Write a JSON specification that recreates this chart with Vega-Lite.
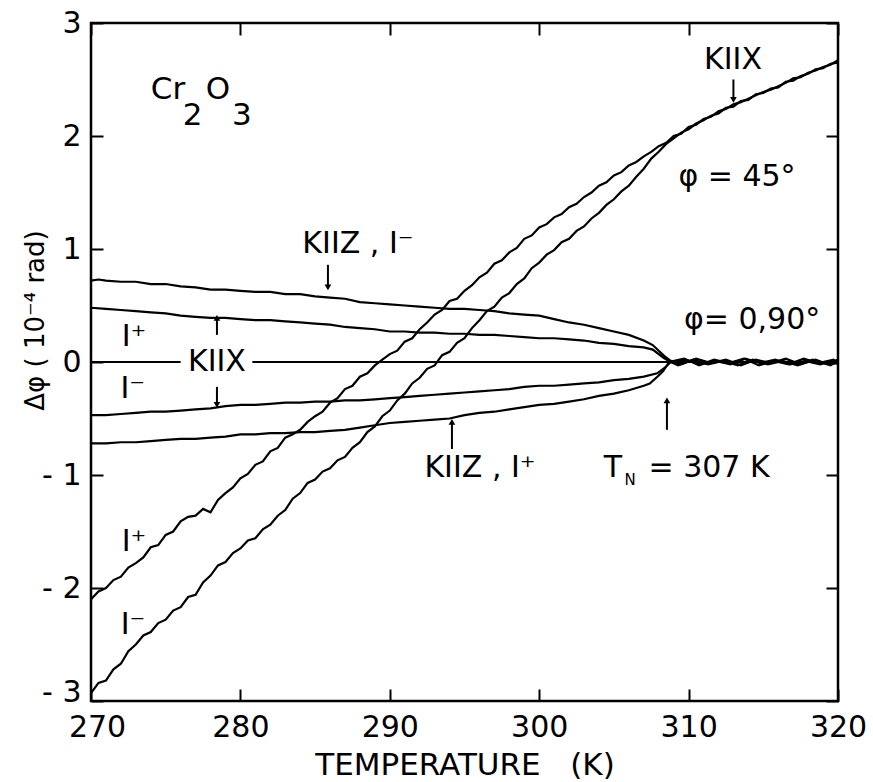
{
  "$schema": "https://vega.github.io/schema/vega-lite/v6.json",
  "width": 747,
  "height": 678,
  "autosize": {"type": "none"},
  "padding": {"left": 91, "top": 23, "right": 35, "bottom": 81},
  "background": "white",
  "config": {
    "view": {"stroke": "black", "strokeWidth": 2.5},
    "font": "DejaVu Sans",
    "axis": {"labelFont": "DejaVu Sans", "titleFont": "DejaVu Sans", "labelColor": "black", "titleColor": "black", "tickColor": "black", "grid": false, "domain": false, "titleFontWeight": "normal"}
  },
  "datasets": {
    "curves": [
      {"s":"Ip","T":270.0,"v":-2.10},{"s":"Ip","T":270.5,"v":-2.03},{"s":"Ip","T":271.0,"v":-2.00},{"s":"Ip","T":271.5,"v":-1.93},{"s":"Ip","T":272.0,"v":-1.90},{"s":"Ip","T":272.5,"v":-1.82},{"s":"Ip","T":273.0,"v":-1.78},{"s":"Ip","T":273.5,"v":-1.73},{"s":"Ip","T":274.0,"v":-1.64},{"s":"Ip","T":274.5,"v":-1.62},{"s":"Ip","T":275.0,"v":-1.53},{"s":"Ip","T":275.5,"v":-1.50},{"s":"Ip","T":276.0,"v":-1.41},{"s":"Ip","T":276.5,"v":-1.37},{"s":"Ip","T":277.0,"v":-1.36},{"s":"Ip","T":277.5,"v":-1.30},{"s":"Ip","T":278.0,"v":-1.33},{"s":"Ip","T":278.5,"v":-1.22},{"s":"Ip","T":279.0,"v":-1.16},{"s":"Ip","T":279.5,"v":-1.11},{"s":"Ip","T":280.0,"v":-1.03},{"s":"Ip","T":280.5,"v":-0.99},{"s":"Ip","T":281.0,"v":-0.91},{"s":"Ip","T":281.5,"v":-0.88},{"s":"Ip","T":282.0,"v":-0.79},{"s":"Ip","T":282.5,"v":-0.76},{"s":"Ip","T":283.0,"v":-0.67},{"s":"Ip","T":283.5,"v":-0.64},{"s":"Ip","T":284.0,"v":-0.60},{"s":"Ip","T":284.5,"v":-0.53},{"s":"Ip","T":285.0,"v":-0.48},{"s":"Ip","T":285.5,"v":-0.44},{"s":"Ip","T":286.0,"v":-0.36},{"s":"Ip","T":286.5,"v":-0.32},{"s":"Ip","T":287.0,"v":-0.24},{"s":"Ip","T":287.5,"v":-0.21},{"s":"Ip","T":288.0,"v":-0.13},{"s":"Ip","T":288.5,"v":-0.10},{"s":"Ip","T":289.0,"v":-0.03},{"s":"Ip","T":289.5,"v":0.02},{"s":"Ip","T":290.0,"v":0.07},{"s":"Ip","T":290.5,"v":0.10},{"s":"Ip","T":291.0,"v":0.18},{"s":"Ip","T":291.5,"v":0.21},{"s":"Ip","T":292.0,"v":0.29},{"s":"Ip","T":292.5,"v":0.35},{"s":"Ip","T":293.0,"v":0.42},{"s":"Ip","T":293.5,"v":0.46},{"s":"Ip","T":294.0,"v":0.54},{"s":"Ip","T":294.5,"v":0.56},{"s":"Ip","T":295.0,"v":0.63},{"s":"Ip","T":295.5,"v":0.68},{"s":"Ip","T":296.0,"v":0.75},{"s":"Ip","T":296.5,"v":0.79},{"s":"Ip","T":297.0,"v":0.87},{"s":"Ip","T":297.5,"v":0.90},{"s":"Ip","T":298.0,"v":0.97},{"s":"Ip","T":298.5,"v":1.01},{"s":"Ip","T":299.0,"v":1.09},{"s":"Ip","T":299.5,"v":1.12},{"s":"Ip","T":300.0,"v":1.19},{"s":"Ip","T":300.5,"v":1.22},{"s":"Ip","T":301.0,"v":1.28},{"s":"Ip","T":301.5,"v":1.31},{"s":"Ip","T":302.0,"v":1.37},{"s":"Ip","T":302.5,"v":1.40},{"s":"Ip","T":303.0,"v":1.46},{"s":"Ip","T":303.5,"v":1.50},{"s":"Ip","T":304.0,"v":1.56},{"s":"Ip","T":304.5,"v":1.59},{"s":"Ip","T":305.0,"v":1.65},{"s":"Ip","T":305.5,"v":1.68},{"s":"Ip","T":306.0,"v":1.74},{"s":"Ip","T":306.5,"v":1.77},{"s":"Ip","T":307.0,"v":1.82},{"s":"Ip","T":307.5,"v":1.86},{"s":"Ip","T":308.0,"v":1.91},{"s":"Ip","T":308.5,"v":1.94},{"s":"Ip","T":309.0,"v":2.00},{"s":"Ip","T":309.5,"v":2.02},{"s":"Ip","T":310.0,"v":2.08},{"s":"Ip","T":310.5,"v":2.10},{"s":"Ip","T":311.0,"v":2.15},{"s":"Ip","T":311.5,"v":2.17},{"s":"Ip","T":312.0,"v":2.22},{"s":"Ip","T":312.5,"v":2.24},{"s":"Ip","T":313.0,"v":2.28},{"s":"Ip","T":313.5,"v":2.30},{"s":"Ip","T":314.0,"v":2.33},{"s":"Ip","T":314.5,"v":2.36},{"s":"Ip","T":315.0,"v":2.39},{"s":"Ip","T":315.5,"v":2.41},{"s":"Ip","T":316.0,"v":2.44},{"s":"Ip","T":316.5,"v":2.47},{"s":"Ip","T":317.0,"v":2.51},{"s":"Ip","T":317.5,"v":2.52},{"s":"Ip","T":318.0,"v":2.56},{"s":"Ip","T":318.5,"v":2.58},{"s":"Ip","T":319.0,"v":2.61},{"s":"Ip","T":319.5,"v":2.63},{"s":"Ip","T":320.0,"v":2.67},

      {"s":"Im","T":270.0,"v":-2.93},{"s":"Im","T":270.5,"v":-2.84},{"s":"Im","T":271.0,"v":-2.82},{"s":"Im","T":271.5,"v":-2.72},{"s":"Im","T":272.0,"v":-2.67},{"s":"Im","T":272.5,"v":-2.56},{"s":"Im","T":273.0,"v":-2.50},{"s":"Im","T":273.5,"v":-2.42},{"s":"Im","T":274.0,"v":-2.39},{"s":"Im","T":274.5,"v":-2.31},{"s":"Im","T":275.0,"v":-2.28},{"s":"Im","T":275.5,"v":-2.20},{"s":"Im","T":276.0,"v":-2.17},{"s":"Im","T":276.5,"v":-2.08},{"s":"Im","T":277.0,"v":-2.06},{"s":"Im","T":277.5,"v":-1.95},{"s":"Im","T":278.0,"v":-1.89},{"s":"Im","T":278.5,"v":-1.80},{"s":"Im","T":279.0,"v":-1.77},{"s":"Im","T":279.5,"v":-1.69},{"s":"Im","T":280.0,"v":-1.65},{"s":"Im","T":280.5,"v":-1.58},{"s":"Im","T":281.0,"v":-1.56},{"s":"Im","T":281.5,"v":-1.48},{"s":"Im","T":282.0,"v":-1.44},{"s":"Im","T":282.5,"v":-1.36},{"s":"Im","T":283.0,"v":-1.31},{"s":"Im","T":283.5,"v":-1.21},{"s":"Im","T":284.0,"v":-1.16},{"s":"Im","T":284.5,"v":-1.07},{"s":"Im","T":285.0,"v":-1.04},{"s":"Im","T":285.5,"v":-0.97},{"s":"Im","T":286.0,"v":-0.94},{"s":"Im","T":286.5,"v":-0.87},{"s":"Im","T":287.0,"v":-0.84},{"s":"Im","T":287.5,"v":-0.76},{"s":"Im","T":288.0,"v":-0.71},{"s":"Im","T":288.5,"v":-0.62},{"s":"Im","T":289.0,"v":-0.57},{"s":"Im","T":289.5,"v":-0.48},{"s":"Im","T":290.0,"v":-0.43},{"s":"Im","T":290.5,"v":-0.34},{"s":"Im","T":291.0,"v":-0.28},{"s":"Im","T":291.5,"v":-0.19},{"s":"Im","T":292.0,"v":-0.14},{"s":"Im","T":292.5,"v":-0.06},{"s":"Im","T":293.0,"v":-0.03},{"s":"Im","T":293.5,"v":0.06},{"s":"Im","T":294.0,"v":0.09},{"s":"Im","T":294.5,"v":0.17},{"s":"Im","T":295.0,"v":0.21},{"s":"Im","T":295.5,"v":0.30},{"s":"Im","T":296.0,"v":0.37},{"s":"Im","T":296.5,"v":0.45},{"s":"Im","T":297.0,"v":0.49},{"s":"Im","T":297.5,"v":0.57},{"s":"Im","T":298.0,"v":0.61},{"s":"Im","T":298.5,"v":0.69},{"s":"Im","T":299.0,"v":0.74},{"s":"Im","T":299.5,"v":0.83},{"s":"Im","T":300.0,"v":0.88},{"s":"Im","T":300.5,"v":0.95},{"s":"Im","T":301.0,"v":0.99},{"s":"Im","T":301.5,"v":1.06},{"s":"Im","T":302.0,"v":1.09},{"s":"Im","T":302.5,"v":1.16},{"s":"Im","T":303.0,"v":1.20},{"s":"Im","T":303.5,"v":1.27},{"s":"Im","T":304.0,"v":1.32},{"s":"Im","T":304.5,"v":1.39},{"s":"Im","T":305.0,"v":1.44},{"s":"Im","T":305.5,"v":1.51},{"s":"Im","T":306.0,"v":1.56},{"s":"Im","T":306.5,"v":1.64},{"s":"Im","T":307.0,"v":1.71},{"s":"Im","T":307.5,"v":1.80},{"s":"Im","T":308.0,"v":1.86},{"s":"Im","T":308.5,"v":1.93},{"s":"Im","T":309.0,"v":1.98},{"s":"Im","T":309.5,"v":2.03},{"s":"Im","T":310.0,"v":2.06},{"s":"Im","T":310.5,"v":2.11},{"s":"Im","T":311.0,"v":2.14},{"s":"Im","T":311.5,"v":2.18},{"s":"Im","T":312.0,"v":2.20},{"s":"Im","T":312.5,"v":2.25},{"s":"Im","T":313.0,"v":2.26},{"s":"Im","T":313.5,"v":2.31},{"s":"Im","T":314.0,"v":2.32},{"s":"Im","T":314.5,"v":2.37},{"s":"Im","T":315.0,"v":2.38},{"s":"Im","T":315.5,"v":2.42},{"s":"Im","T":316.0,"v":2.43},{"s":"Im","T":316.5,"v":2.48},{"s":"Im","T":317.0,"v":2.49},{"s":"Im","T":317.5,"v":2.53},{"s":"Im","T":318.0,"v":2.55},{"s":"Im","T":318.5,"v":2.59},{"s":"Im","T":319.0,"v":2.60},{"s":"Im","T":319.5,"v":2.64},{"s":"Im","T":320.0,"v":2.65},

      {"s":"ZIm","T":270,"v":0.72},{"s":"ZIm","T":270.5,"v":0.73},{"s":"ZIm","T":271,"v":0.72},{"s":"ZIm","T":272,"v":0.71},{"s":"ZIm","T":273,"v":0.71},{"s":"ZIm","T":274,"v":0.69},{"s":"ZIm","T":275,"v":0.69},{"s":"ZIm","T":276,"v":0.67},{"s":"ZIm","T":277,"v":0.66},{"s":"ZIm","T":278,"v":0.64},{"s":"ZIm","T":279,"v":0.64},{"s":"ZIm","T":280,"v":0.63},{"s":"ZIm","T":281,"v":0.62},{"s":"ZIm","T":282,"v":0.62},{"s":"ZIm","T":283,"v":0.60},{"s":"ZIm","T":284,"v":0.60},{"s":"ZIm","T":285,"v":0.58},{"s":"ZIm","T":286,"v":0.57},{"s":"ZIm","T":287,"v":0.56},{"s":"ZIm","T":288,"v":0.53},{"s":"ZIm","T":289,"v":0.52},{"s":"ZIm","T":290,"v":0.51},{"s":"ZIm","T":291,"v":0.50},{"s":"ZIm","T":292,"v":0.49},{"s":"ZIm","T":293,"v":0.48},{"s":"ZIm","T":294,"v":0.47},{"s":"ZIm","T":295,"v":0.47},{"s":"ZIm","T":296,"v":0.46},{"s":"ZIm","T":297,"v":0.45},{"s":"ZIm","T":298,"v":0.43},{"s":"ZIm","T":299,"v":0.42},{"s":"ZIm","T":300,"v":0.41},{"s":"ZIm","T":301,"v":0.38},{"s":"ZIm","T":302,"v":0.35},{"s":"ZIm","T":303,"v":0.33},{"s":"ZIm","T":304,"v":0.30},{"s":"ZIm","T":305,"v":0.27},{"s":"ZIm","T":306,"v":0.24},{"s":"ZIm","T":307,"v":0.19},{"s":"ZIm","T":307.6,"v":0.15},{"s":"ZIm","T":308,"v":0.10},{"s":"ZIm","T":308.4,"v":0.05},{"s":"ZIm","T":308.8,"v":0.01},{"s":"ZIm","T":309.5,"v":-0.02},{"s":"ZIm","T":310.5,"v":0.03},{"s":"ZIm","T":311.5,"v":-0.01},{"s":"ZIm","T":312.5,"v":0.02},{"s":"ZIm","T":313.5,"v":-0.03},{"s":"ZIm","T":314.5,"v":0.02},{"s":"ZIm","T":315.5,"v":-0.01},{"s":"ZIm","T":316.5,"v":0.03},{"s":"ZIm","T":317.5,"v":-0.02},{"s":"ZIm","T":318.5,"v":0.02},{"s":"ZIm","T":319.5,"v":-0.03},{"s":"ZIm","T":320,"v":0.01},

      {"s":"XIp","T":270,"v":0.48},{"s":"XIp","T":271,"v":0.47},{"s":"XIp","T":272,"v":0.46},{"s":"XIp","T":273,"v":0.45},{"s":"XIp","T":274,"v":0.44},{"s":"XIp","T":275,"v":0.43},{"s":"XIp","T":276,"v":0.41},{"s":"XIp","T":277,"v":0.40},{"s":"XIp","T":278,"v":0.39},{"s":"XIp","T":279,"v":0.39},{"s":"XIp","T":280,"v":0.38},{"s":"XIp","T":281,"v":0.37},{"s":"XIp","T":282,"v":0.37},{"s":"XIp","T":283,"v":0.36},{"s":"XIp","T":284,"v":0.35},{"s":"XIp","T":285,"v":0.34},{"s":"XIp","T":286,"v":0.33},{"s":"XIp","T":287,"v":0.31},{"s":"XIp","T":288,"v":0.30},{"s":"XIp","T":289,"v":0.29},{"s":"XIp","T":290,"v":0.27},{"s":"XIp","T":291,"v":0.27},{"s":"XIp","T":292,"v":0.26},{"s":"XIp","T":293,"v":0.26},{"s":"XIp","T":294,"v":0.25},{"s":"XIp","T":295,"v":0.25},{"s":"XIp","T":296,"v":0.24},{"s":"XIp","T":297,"v":0.24},{"s":"XIp","T":298,"v":0.23},{"s":"XIp","T":299,"v":0.22},{"s":"XIp","T":300,"v":0.21},{"s":"XIp","T":301,"v":0.21},{"s":"XIp","T":302,"v":0.20},{"s":"XIp","T":303,"v":0.19},{"s":"XIp","T":304,"v":0.17},{"s":"XIp","T":305,"v":0.16},{"s":"XIp","T":306,"v":0.14},{"s":"XIp","T":307,"v":0.13},{"s":"XIp","T":307.6,"v":0.11},{"s":"XIp","T":308.3,"v":0.04},{"s":"XIp","T":308.8,"v":0.0},{"s":"XIp","T":309.8,"v":0.02},{"s":"XIp","T":310.8,"v":-0.02},{"s":"XIp","T":311.8,"v":0.01},{"s":"XIp","T":312.8,"v":-0.02},{"s":"XIp","T":313.8,"v":0.03},{"s":"XIp","T":314.8,"v":-0.01},{"s":"XIp","T":315.8,"v":0.02},{"s":"XIp","T":316.8,"v":-0.02},{"s":"XIp","T":317.8,"v":0.01},{"s":"XIp","T":318.8,"v":-0.02},{"s":"XIp","T":320,"v":0.02},

      {"s":"XIm","T":270,"v":-0.47},{"s":"XIm","T":271,"v":-0.47},{"s":"XIm","T":272,"v":-0.46},{"s":"XIm","T":273,"v":-0.45},{"s":"XIm","T":274,"v":-0.44},{"s":"XIm","T":275,"v":-0.44},{"s":"XIm","T":276,"v":-0.43},{"s":"XIm","T":277,"v":-0.42},{"s":"XIm","T":278,"v":-0.41},{"s":"XIm","T":279,"v":-0.39},{"s":"XIm","T":280,"v":-0.38},{"s":"XIm","T":281,"v":-0.38},{"s":"XIm","T":282,"v":-0.37},{"s":"XIm","T":283,"v":-0.36},{"s":"XIm","T":284,"v":-0.36},{"s":"XIm","T":285,"v":-0.35},{"s":"XIm","T":286,"v":-0.35},{"s":"XIm","T":287,"v":-0.34},{"s":"XIm","T":288,"v":-0.34},{"s":"XIm","T":289,"v":-0.33},{"s":"XIm","T":290,"v":-0.32},{"s":"XIm","T":291,"v":-0.31},{"s":"XIm","T":292,"v":-0.30},{"s":"XIm","T":293,"v":-0.29},{"s":"XIm","T":294,"v":-0.28},{"s":"XIm","T":295,"v":-0.27},{"s":"XIm","T":296,"v":-0.26},{"s":"XIm","T":297,"v":-0.25},{"s":"XIm","T":298,"v":-0.24},{"s":"XIm","T":299,"v":-0.22},{"s":"XIm","T":300,"v":-0.21},{"s":"XIm","T":301,"v":-0.21},{"s":"XIm","T":302,"v":-0.20},{"s":"XIm","T":303,"v":-0.19},{"s":"XIm","T":304,"v":-0.18},{"s":"XIm","T":305,"v":-0.16},{"s":"XIm","T":306,"v":-0.15},{"s":"XIm","T":307,"v":-0.13},{"s":"XIm","T":307.9,"v":-0.10},{"s":"XIm","T":308.5,"v":-0.04},{"s":"XIm","T":308.8,"v":0.0},{"s":"XIm","T":309.3,"v":-0.03},{"s":"XIm","T":310.3,"v":0.02},{"s":"XIm","T":311.3,"v":-0.02},{"s":"XIm","T":312.3,"v":0.01},{"s":"XIm","T":313.3,"v":-0.03},{"s":"XIm","T":314.3,"v":0.02},{"s":"XIm","T":315.3,"v":-0.02},{"s":"XIm","T":316.3,"v":0.01},{"s":"XIm","T":317.3,"v":-0.03},{"s":"XIm","T":318.3,"v":0.02},{"s":"XIm","T":319.3,"v":-0.02},{"s":"XIm","T":320,"v":-0.01},

      {"s":"ZIp","T":270,"v":-0.72},{"s":"ZIp","T":271,"v":-0.72},{"s":"ZIp","T":272,"v":-0.71},{"s":"ZIp","T":273,"v":-0.71},{"s":"ZIp","T":274,"v":-0.70},{"s":"ZIp","T":275,"v":-0.69},{"s":"ZIp","T":276,"v":-0.68},{"s":"ZIp","T":277,"v":-0.68},{"s":"ZIp","T":278,"v":-0.67},{"s":"ZIp","T":279,"v":-0.66},{"s":"ZIp","T":280,"v":-0.64},{"s":"ZIp","T":281,"v":-0.64},{"s":"ZIp","T":282,"v":-0.63},{"s":"ZIp","T":283,"v":-0.63},{"s":"ZIp","T":284,"v":-0.62},{"s":"ZIp","T":285,"v":-0.62},{"s":"ZIp","T":286,"v":-0.61},{"s":"ZIp","T":287,"v":-0.60},{"s":"ZIp","T":288,"v":-0.58},{"s":"ZIp","T":289,"v":-0.56},{"s":"ZIp","T":290,"v":-0.54},{"s":"ZIp","T":291,"v":-0.53},{"s":"ZIp","T":292,"v":-0.52},{"s":"ZIp","T":293,"v":-0.51},{"s":"ZIp","T":294,"v":-0.50},{"s":"ZIp","T":295,"v":-0.47},{"s":"ZIp","T":296,"v":-0.45},{"s":"ZIp","T":297,"v":-0.44},{"s":"ZIp","T":298,"v":-0.42},{"s":"ZIp","T":299,"v":-0.40},{"s":"ZIp","T":300,"v":-0.38},{"s":"ZIp","T":301,"v":-0.37},{"s":"ZIp","T":302,"v":-0.35},{"s":"ZIp","T":303,"v":-0.33},{"s":"ZIp","T":304,"v":-0.30},{"s":"ZIp","T":305,"v":-0.28},{"s":"ZIp","T":306,"v":-0.25},{"s":"ZIp","T":307,"v":-0.21},{"s":"ZIp","T":307.4,"v":-0.19},{"s":"ZIp","T":308,"v":-0.12},{"s":"ZIp","T":308.3,"v":-0.08},{"s":"ZIp","T":308.7,"v":0.0},{"s":"ZIp","T":309.7,"v":0.03},{"s":"ZIp","T":310.7,"v":-0.03},{"s":"ZIp","T":311.7,"v":0.02},{"s":"ZIp","T":312.7,"v":-0.01},{"s":"ZIp","T":313.7,"v":0.03},{"s":"ZIp","T":314.7,"v":-0.03},{"s":"ZIp","T":315.7,"v":0.01},{"s":"ZIp","T":316.7,"v":-0.02},{"s":"ZIp","T":317.7,"v":0.03},{"s":"ZIp","T":318.7,"v":-0.01},{"s":"ZIp","T":319.7,"v":0.02},{"s":"ZIp","T":320,"v":-0.02}
    ],
    "zero": [
      {"s":"z1","T":270,"v":0},{"s":"z1","T":276.0,"v":0},
      {"s":"z2","T":280.8,"v":0},{"s":"z2","T":320,"v":0}
    ],
    "labels": [
      {"T":312.97,"v":2.67,"label":"KIIX"},
      {"T":313.24,"v":1.64,"label":"φ = 45°"},
      {"T":314.25,"v":0.37,"label":"φ= 0,90°"},
      {"T":287.87,"v":1.04,"label":"KIIZ , I⁻"},
      {"T":272.88,"v":0.22,"label":"I⁺"},
      {"T":278.43,"v":0.0,"label":"KIIX"},
      {"T":272.8,"v":-0.24,"label":"I⁻"},
      {"T":296.04,"v":-0.94,"label":"KIIZ , I⁺"},
      {"T":304.94,"v":-0.94,"label":"T"},
      {"T":311.37,"v":-0.94,"label":"= 307 K"},
      {"T":272.88,"v":-1.59,"label":"I⁺"},
      {"T":272.81,"v":-2.33,"label":"I⁻"}
    ],
    "formula": [
      {"T":275.15,"v":2.41,"label":"Cr"},
      {"T":276.8,"v":2.18,"label":"2"},
      {"T":278.5,"v":2.41,"label":"O"},
      {"T":280.1,"v":2.18,"label":"3"}
    ],
    "small": [
      {"T":306.08,"v":-1.04,"label":"N"}
    ],
    "arrows": [
      {"T":313.0,"tail":2.50,"tip":2.32,"dir":"down"},
      {"T":285.86,"tail":0.86,"tip":0.66,"dir":"down"},
      {"T":278.43,"tail":0.24,"tip":0.39,"dir":"up"},
      {"T":278.43,"tail":-0.22,"tip":-0.38,"dir":"down"},
      {"T":294.16,"tail":-0.77,"tip":-0.53,"dir":"up"},
      {"T":308.55,"tail":-0.60,"tip":-0.34,"dir":"up"}
    ]
  },
  "layer": [
    {
      "data": {"name": "curves"},
      "mark": {"type": "line", "color": "black", "strokeWidth": 2.2},
      "encoding": {
        "x": {"field": "T", "type": "quantitative", "scale": {"domain": [270, 320], "nice": false, "zero": false},
          "axis": {"orient": "bottom", "values": [270, 280, 290, 300, 310, 320], "tickSize": -12, "tickWidth": 2, "labelFontSize": 30, "labelPadding": 23, "labelFlush": false, "labelOverlap": false,
            "labelOffset": {"condition": {"test": "datum.value === 270", "value": 6}, "value": 0},
            "title": "TEMPERATURE\u00a0\u00a0\u00a0(K)", "titleFontSize": 31, "titleY": 64, "titleBaseline": "middle"}},
        "y": {"field": "v", "type": "quantitative", "scale": {"domain": [-3, 3], "nice": false, "zero": false},
          "axis": {"orient": "left", "values": [-3, -2, -1, 0, 1, 2, 3], "tickSize": -12, "tickWidth": 2, "labelFontSize": 30, "labelPadding": 22, "labelFlush": false, "labelOverlap": false,
            "labelExpr": "(datum.value < 0 ? '- ' : '') + abs(datum.value)",
            "labelOffset": {"condition": {"test": "datum.value === -3", "value": -9}, "value": 0},
            "title": "Δφ ( 10⁻⁴ rad)", "titleFontSize": 26, "titleX": -56, "titleY": 297, "titleAngle": -90, "titleAlign": "center", "titleBaseline": "middle"}},
        "detail": {"field": "s", "type": "nominal"}
      }
    },
    {
      "data": {"name": "zero"},
      "mark": {"type": "line", "color": "black", "strokeWidth": 2.2},
      "encoding": {
        "x": {"field": "T", "type": "quantitative", "scale": {"domain": [270, 320], "nice": false, "zero": false},
          "axis": {"orient": "top", "values": [270, 280, 290, 300, 310, 320], "tickSize": -12, "tickWidth": 2, "labels": false, "title": null}},
        "y": {"field": "v", "type": "quantitative", "scale": {"domain": [-3, 3], "nice": false, "zero": false},
          "axis": {"orient": "right", "values": [-3, -2, -1, 0, 1, 2, 3], "tickSize": -12, "tickWidth": 2, "labels": false, "title": null}},
        "detail": {"field": "s", "type": "nominal"}
      }
    },
    {
      "data": {"name": "arrows"},
      "mark": {"type": "rule", "color": "black", "strokeWidth": 2},
      "encoding": {
        "x": {"field": "T", "type": "quantitative", "axis": null},
        "y": {"field": "tail", "type": "quantitative", "axis": null},
        "y2": {"field": "tip"}
      }
    },
    {
      "data": {"name": "arrows"},
      "mark": {"type": "point", "filled": true, "color": "black", "size": 45, "opacity": 1},
      "encoding": {
        "x": {"field": "T", "type": "quantitative", "axis": null},
        "y": {"field": "tip", "type": "quantitative", "axis": null},
        "shape": {"field": "dir", "type": "nominal", "scale": {"domain": ["up", "down"], "range": ["triangle-up", "triangle-down"]}, "legend": null}
      }
    },
    {
      "data": {"name": "labels"},
      "mark": {"type": "text", "font": "DejaVu Sans", "fontSize": 30, "color": "black", "align": "center", "baseline": "middle"},
      "encoding": {
        "x": {"field": "T", "type": "quantitative", "axis": null},
        "y": {"field": "v", "type": "quantitative", "axis": null},
        "text": {"field": "label"}
      }
    },
    {
      "data": {"name": "formula"},
      "mark": {"type": "text", "font": "DejaVu Sans", "fontSize": 31, "color": "black", "align": "center", "baseline": "middle"},
      "encoding": {
        "x": {"field": "T", "type": "quantitative", "axis": null},
        "y": {"field": "v", "type": "quantitative", "axis": null},
        "text": {"field": "label"}
      }
    },
    {
      "data": {"name": "small"},
      "mark": {"type": "text", "font": "DejaVu Sans", "fontSize": 15, "color": "black", "align": "center", "baseline": "middle"},
      "encoding": {
        "x": {"field": "T", "type": "quantitative", "axis": null},
        "y": {"field": "v", "type": "quantitative", "axis": null},
        "text": {"field": "label"}
      }
    }
  ],
  "resolve": {"axis": {"x": "independent", "y": "independent"}}
}
